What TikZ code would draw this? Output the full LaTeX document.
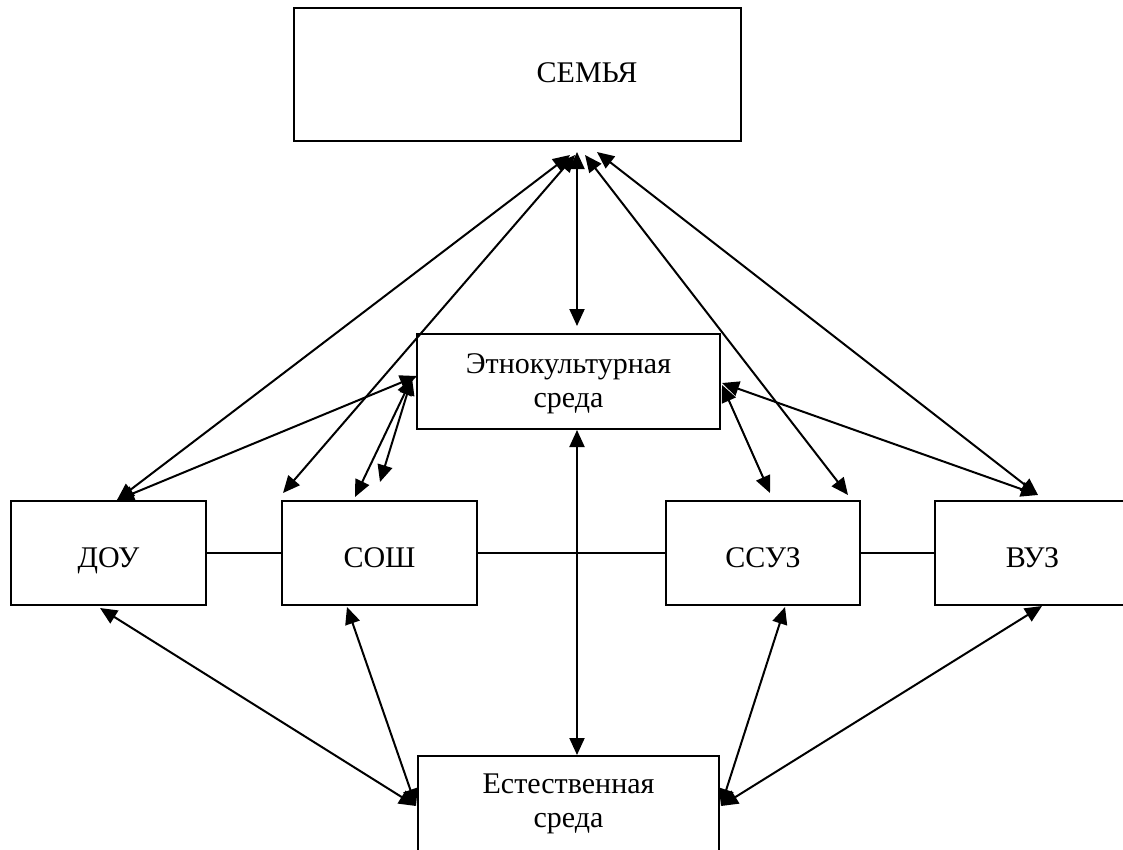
\documentclass[tikz,border=0pt]{standalone}
\usepackage{fontspec}
\setmainfont{Liberation Serif}
\usetikzlibrary{arrows.meta,calc}
\begin{document}
\begin{tikzpicture}[x=1pt,y=-1pt,
  box/.style={draw, line width=2.4pt, rectangle, inner sep=0pt, outer sep=0pt,
    font=\fontsize{30}{34}\selectfont, align=center},
  unit/.style={box, minimum width=195pt, minimum height=104pt, text height=28pt, text depth=0pt},
  lbl/.style={inner sep=0pt, font=\fontsize{30}{34}\selectfont},
  arr/.style={line width=2pt,
    {Triangle[length=17pt,width=15pt]}-{Triangle[length=17pt,width=15pt]}},
  link/.style={line width=2.2pt}]
\path[use as bounding box, clip] (0,0) rectangle (1123,849);
\fill[white] (0,0) rectangle (1123,849);

% boxes
\node[box, minimum width=447pt, minimum height=133pt] (semya) at (517.5,74.5) {};
\node[lbl] (semyatext) at (587,73) {СЕМЬЯ};
\node[box, minimum width=303pt, minimum height=95pt] (etno) at (568.5,381.5) {\rule{0pt}{24pt}Этнокультурная\\среда};
\node[box, minimum width=301pt, minimum height=95pt] (est) at (568.5,803.5) {Естественная\\среда};
\node[unit] (dou) at (108.5,553) {ДОУ};
\node[unit] (sosh) at (379.5,553) {СОШ};
\node[unit, minimum width=194pt] (ssuz) at (763,553) {ССУЗ};
\node[unit] (vuz) at (1032.5,553) {ВУЗ};

% horizontal links
\draw[link] (dou.east) -- (sosh.west);
\draw[link] (sosh.east) -- (ssuz.west);
\draw[link] (ssuz.east) -- (vuz.west);

% family arrows
\draw[arr] ($(semya.south)+(52.5,14)$) -- ($(dou.north)+(8.5,-1)$);
\draw[arr] ($(semya.south)+(57.5,14)$) -- ($(sosh.north)+(-96.5,-8)$);
\draw[arr] ($(semya.south)+(59.5,11)$) -- ($(etno.north)+(8.5,-8)$);
\draw[arr] ($(semya.south)+(67.5,14)$) -- ($(ssuz.north)+(85,-6)$);
\draw[arr] ($(semya.south)+(79.5,11)$) -- ($(vuz.north)+(5.5,-6)$);

% ethnocultural environment arrows
\draw[arr] ($(etno.west)+(0,-5.5)$) -- ($(dou.north)+(8.5,-1)$);
\draw[arr] ($(etno.west)+(-5,-3.5)$) -- ($(sosh.north)+(-24.5,-4)$);
\coordinate (soshfree) at ($(sosh.north)+(0.5,-19)$);
\draw[arr] ($(etno.west)+(-5,-3.5)$) -- (soshfree);
\draw[arr] ($(etno.east)+(2,3.5)$) -- ($(ssuz.north)+(7,-8)$);
\draw[arr] ($(etno.east)+(2,1.5)$) -- ($(vuz.north)+(5.5,-6)$);
\draw[arr] ($(etno.south)+(8.5,1)$) -- ($(est.north)+(8.5,-1)$);

% natural environment arrows
\draw[arr] ($(dou.south)+(-8.5,3)$) -- ($(est.west)+(-2,2.5)$);
\draw[arr] ($(sosh.south)+(-32.5,2)$) -- ($(est.west)+(-2,2.5)$);
\draw[arr] ($(ssuz.south)+(22,2)$) -- ($(est.east)+(2,2.5)$);
\draw[arr] ($(vuz.south)+(9.5,1)$) -- ($(est.east)+(2,2.5)$);
\end{tikzpicture}
\end{document}
